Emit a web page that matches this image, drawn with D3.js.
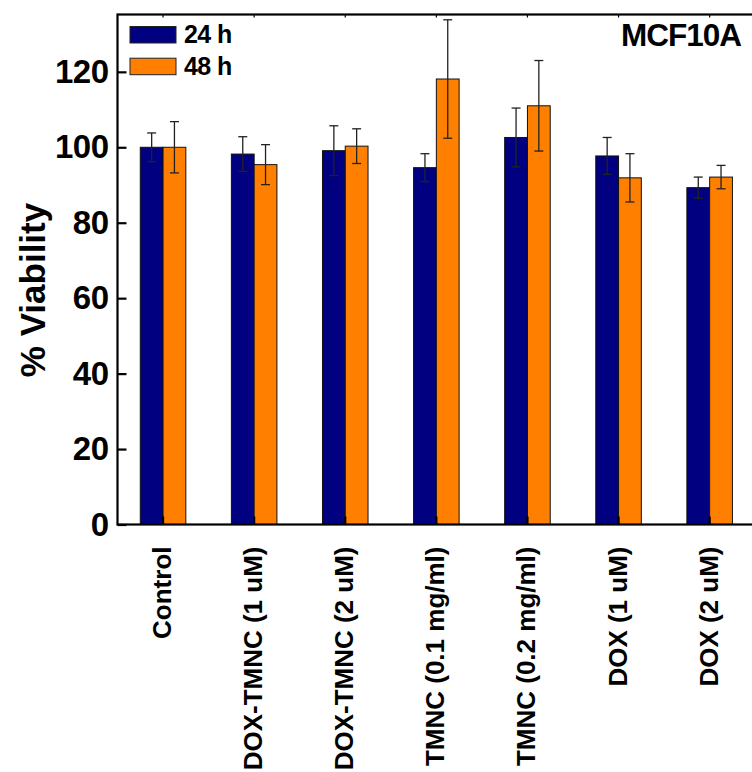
<!DOCTYPE html>
<html>
<head>
<meta charset="utf-8">
<script src="https://cdn.jsdelivr.net/npm/d3@7"></script>
<style>
  html, body { margin: 0; padding: 0; background: #fff; overflow: hidden; }
  svg { display: block; font-family: "Liberation Sans", Arial, sans-serif; font-weight: bold; }
</style>
</head>
<body>
<svg id="chart" width="752" height="772"></svg>
<script>
// Treatment groups along the x axis
const categories = ["Control", "DOX-TMNC (1 uM)", "DOX-TMNC (2 uM)", "TMNC (0.1 mg/ml)",
                    "TMNC (0.2 mg/ml)", "DOX (1 uM)", "DOX (2 uM)"];
const seriesNames = ["24 h", "48 h"];
const seriesColors = ["#000080", "#FF8000"];

// Mean % viability and error (±) per time point
const viability24 = [100.0, 98.2, 99.1, 94.6, 102.6, 97.7, 89.3];
const error24     = [3.8, 4.6, 6.6, 3.7, 7.8, 4.9, 2.8];
const viability48 = [100.0, 95.4, 100.3, 118.1, 111.0, 91.9, 92.1];
const error48     = [6.8, 5.3, 4.6, 15.7, 12.0, 6.4, 3.1];

const yTicks = [0, 20, 40, 60, 80, 100, 120];

const svg = d3.select("#chart");
const plotLeft = 117.5, plotTop = 14.5, plotBottom = 524.5, step = 91.1;
const plotRight = plotLeft + step * categories.length;

const x = d3.scaleBand().domain(categories).range([plotLeft, plotRight]).padding(0);
const xs = d3.scaleBand().domain(seriesNames)
  .range([x.bandwidth() * 0.25, x.bandwidth() * 0.75]).padding(0);
const y = d3.scaleLinear().domain([0, 135.2]).range([plotBottom, plotTop]);

const rows = categories.map((c, i) => ({
  cat: c,
  vals: [
    { s: seriesNames[0], v: viability24[i], e: error24[i], color: seriesColors[0] },
    { s: seriesNames[1], v: viability48[i], e: error48[i], color: seriesColors[1] }
  ]
}));

// Bars
const groups = svg.append("g").selectAll("g").data(rows).join("g")
  .attr("transform", d => `translate(${x(d.cat)},0)`);

groups.selectAll("rect").data(d => d.vals).join("rect")
  .attr("x", d => xs(d.s))
  .attr("y", d => y(d.v))
  .attr("width", xs.bandwidth())
  .attr("height", d => y(0) - y(d.v))
  .attr("fill", d => d.color)
  .attr("stroke", "#111")
  .attr("stroke-width", 1);

// Error bars
const eb = groups.selectAll("g.err").data(d => d.vals).join("g").attr("class", "err")
  .attr("stroke", "#222").attr("stroke-width", 1.3);
const cx = d => xs(d.s) + xs.bandwidth() / 2;
eb.append("line").attr("x1", cx).attr("x2", cx)
  .attr("y1", d => y(d.v + d.e)).attr("y2", d => y(d.v - d.e));
eb.append("line").attr("x1", d => cx(d) - 4.5).attr("x2", d => cx(d) + 4.5)
  .attr("y1", d => y(d.v + d.e)).attr("y2", d => y(d.v + d.e));
eb.append("line").attr("x1", d => cx(d) - 4.5).attr("x2", d => cx(d) + 4.5)
  .attr("y1", d => y(d.v - d.e)).attr("y2", d => y(d.v - d.e));

// Frame
svg.append("rect")
  .attr("x", plotLeft).attr("y", plotTop)
  .attr("width", plotRight - plotLeft).attr("height", plotBottom - plotTop)
  .attr("fill", "none").attr("stroke", "#000").attr("stroke-width", 2.2);

// Y axis with inward ticks
const yAxis = svg.append("g").attr("transform", `translate(${plotLeft},0)`)
  .call(d3.axisLeft(y).tickValues(yTicks).tickSize(-9).tickPadding(9).tickFormat(d3.format("d")));
yAxis.select(".domain").remove();
yAxis.selectAll(".tick line").attr("stroke", "#000").attr("stroke-width", 2.2);
yAxis.selectAll(".tick text")
  .attr("font-size", 33).attr("font-weight", "bold").attr("fill", "#000")
  .attr("letter-spacing", -0.5)
  .attr("font-family", "Liberation Sans, Arial, sans-serif");

// Bottom axis: short inward ticks at category centres, rotated labels
const xAxis = svg.append("g").attr("transform", `translate(0,${plotBottom})`)
  .call(d3.axisBottom(x).tickSize(-8).tickPadding(0));
xAxis.select(".domain").remove();
xAxis.selectAll(".tick line").attr("stroke", "#000").attr("stroke-width", 2.2);
xAxis.selectAll(".tick text")
  .attr("font-size", 26).attr("font-weight", "bold").attr("fill", "#000")
  .attr("font-family", "Liberation Sans, Arial, sans-serif")
  .attr("text-anchor", "end")
  .attr("dy", null)
  .attr("transform", "translate(8,22) rotate(-90)");

// Top axis: tiny inward ticks
const topAxis = svg.append("g").attr("transform", `translate(0,${plotTop})`)
  .call(d3.axisTop(x).tickSize(-3).tickFormat(""));
topAxis.select(".domain").remove();
topAxis.selectAll(".tick line").attr("stroke", "#000").attr("stroke-width", 1.2);

// Y axis title
svg.append("text")
  .attr("transform", "translate(45,290) rotate(-90)")
  .attr("text-anchor", "middle")
  .attr("font-size", 35)
  .attr("fill", "#000")
  .text("% Viability");

// Panel label
svg.append("text")
  .attr("x", 741).attr("y", 46)
  .attr("text-anchor", "end")
  .attr("font-size", 31.5)
  .attr("letter-spacing", -1)
  .attr("fill", "#000")
  .text("MCF10A");

// Legend
const legend = svg.append("g").selectAll("g").data(seriesNames).join("g")
  .attr("transform", (d, i) => `translate(130,${26.5 + i * 31.7})`);
legend.append("rect")
  .attr("width", 46).attr("height", 16.5)
  .attr("fill", (d, i) => seriesColors[i])
  .attr("stroke", "#222").attr("stroke-width", 1);
legend.append("text")
  .attr("x", 54).attr("y", 16.5)
  .attr("font-size", 25)
  .attr("letter-spacing", -0.6)
  .attr("fill", "#000")
  .text(d => d);
</script>
</body>
</html>
